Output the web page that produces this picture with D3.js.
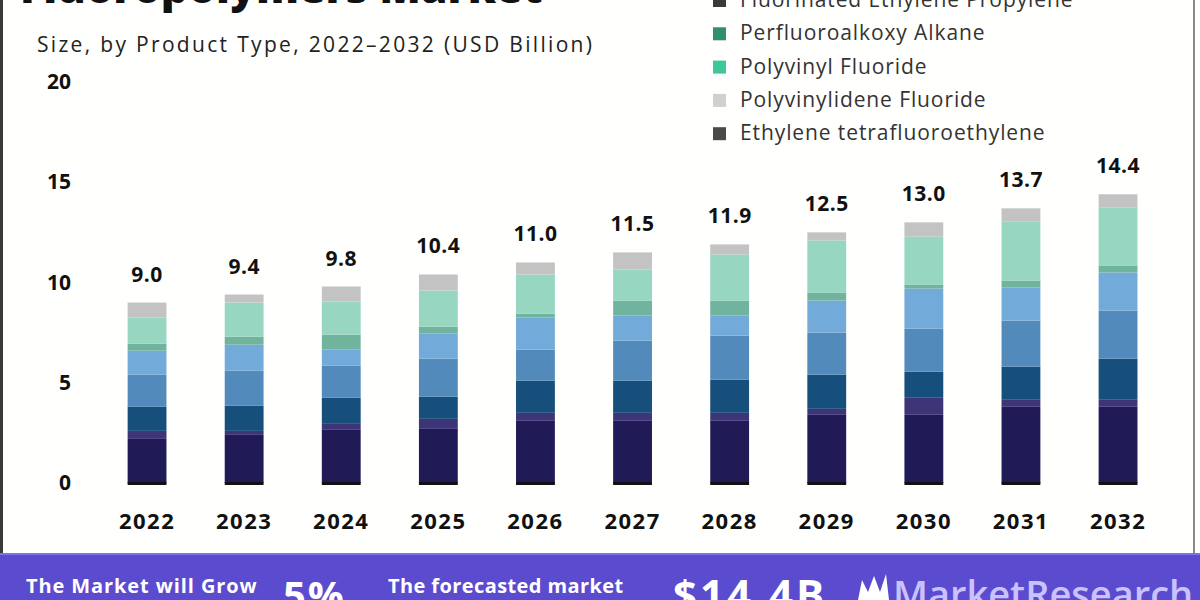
<!DOCTYPE html>
<html>
<head>
<meta charset="utf-8">
<script src="https://cdn.jsdelivr.net/npm/d3@7"></script>
<style>
  html, body { margin: 0; padding: 0; background: #ffffff; }
  svg { display: block; }
  text { font-family: "Open Sans", "Noto Sans", sans-serif; }
</style>
</head>
<body>
<div id="chart"></div>
<script>
// ---- data ----
const years = ["2022","2023","2024","2025","2026","2027","2028","2029","2030","2031","2032"];
const totals = [9.0, 9.4, 9.8, 10.4, 11.0, 11.5, 11.9, 12.5, 13.0, 13.7, 14.4];
const totalLabels = ["9.0","9.4","9.8","10.4","11.0","11.5","11.9","12.5","13.0","13.7","14.4"];

// stack layers, bottom to top
const seriesNames = [
  "Polytetrafluoroethylene",
  "Fluoroelastomers",
  "Fluorinated Ethylene Propylene",
  "Perfluoroalkoxy Alkane",
  "Polyvinyl Fluoride",
  "Polyvinylidene Fluoride",
  "Ethylene tetrafluoroethylene",
  "Others"
];
const ptfe  = [2.20, 2.40, 2.65, 2.70, 3.10, 3.10, 3.10, 3.40, 3.40, 3.80, 3.80];
const fluoroEl = [0.40, 0.20, 0.30, 0.50, 0.40, 0.40, 0.40, 0.30, 0.85, 0.35, 0.35];
const fep   = [1.20, 1.25, 1.30, 1.10, 1.60, 1.60, 1.65, 1.70, 1.30, 1.65, 2.05];
const pfa   = [1.60, 1.75, 1.60, 1.90, 1.55, 2.00, 2.20, 2.10, 2.15, 2.30, 2.40];
const pvf   = [1.20, 1.30, 0.80, 1.25, 1.60, 1.25, 1.00, 1.60, 2.00, 1.65, 1.90];
const pvdf  = [0.35, 0.40, 0.75, 0.35, 0.20, 0.75, 0.75, 0.40, 0.20, 0.35, 0.35];
const etfe  = [1.30, 1.70, 1.65, 1.80, 1.95, 1.55, 2.30, 2.60, 2.40, 2.95, 2.90];
const others= [0.75, 0.40, 0.75, 0.80, 0.60, 0.85, 0.50, 0.40, 0.70, 0.65, 0.65];
const seriesValues = [ptfe, fluoroEl, fep, pfa, pvf, pvdf, etfe, others];
const seriesColors = ["#201a57", "#3e3478", "#164e7c", "#528bbb", "#72aad9", "#70b49d", "#97d6c0", "#c3c3c3"];

// legend (top part is cropped off the picture)
const legendNames = [
  "Others", "Fluoroelastomers", "Polytetrafluoroethylene",
  "Fluorinated Ethylene Propylene", "Perfluoroalkoxy Alkane",
  "Polyvinyl Fluoride", "Polyvinylidene Fluoride", "Ethylene tetrafluoroethylene"
];
const legendColors = ["#c3c3c3", "#3e3478", "#201a57", "#3a3a3a", "#2f8f6f", "#3cc89a", "#d0d0d0", "#4a4a4a"];

const yTicks = [0, 5, 10, 15, 20];

// ---- chart ----
const W = 1200, H = 600;
const svg = d3.select("#chart").append("svg").attr("width", W).attr("height", H);

svg.append("rect").attr("x", 0).attr("y", 0).attr("width", W).attr("height", H).attr("fill", "#fffffd");

const table = years.map((yr, i) => {
  const row = { year: yr };
  seriesNames.forEach((s, k) => { row[s] = seriesValues[k][i]; });
  return row;
});
const stack = d3.stack().keys(seriesNames)(table);

const x = d3.scaleBand().domain(years).range([98.5, 1166.6]).paddingInner(0.6).paddingOuter(0.3);
const y = d3.scaleLinear().domain([0, 20]).range([483, 82]);
const color = d3.scaleOrdinal().domain(seriesNames).range(seriesColors);

// bars
svg.append("g").selectAll("g").data(stack).join("g")
  .attr("fill", d => color(d.key))
  .selectAll("rect").data(d => d).join("rect")
  .attr("x", d => x(d.data.year))
  .attr("width", x.bandwidth())
  .attr("y", d => y(d[1]))
  .attr("height", d => y(d[0]) - y(d[1]));

// baseline stub under each bar
svg.append("g").selectAll("rect").data(years).join("rect")
  .attr("x", d => x(d)).attr("width", x.bandwidth())
  .attr("y", y(0) - 1).attr("height", 3).attr("fill", "#111");

// totals
svg.append("g").selectAll("text").data(years).join("text")
  .attr("x", d => x(d) + x.bandwidth() / 2)
  .attr("y", (d, i) => y(totals[i]) - 21)
  .attr("text-anchor", "middle")
  .attr("font-size", 21).attr("font-weight", 700).attr("fill", "#111")
  .attr("letter-spacing", 0.5)
  .text((d, i) => totalLabels[i]);

// y axis
const yAxis = d3.axisLeft(y).tickValues(yTicks).tickSize(0).tickPadding(0).tickFormat(d3.format("d"));
const gy = svg.append("g").attr("transform", "translate(71,0)").call(yAxis);
gy.select(".domain").remove();
gy.selectAll("text").attr("font-size", 21).attr("font-weight", 700).attr("fill", "#111")
  .attr("font-family", "'Open Sans', sans-serif");

// x axis
const xAxis = d3.axisBottom(x).tickSize(0).tickPadding(0);
const gx = svg.append("g").attr("transform", "translate(0,513)").call(xAxis);
gx.select(".domain").remove();
gx.selectAll("text").attr("font-size", 22).attr("font-weight", 700).attr("fill", "#111")
  .attr("letter-spacing", 1.5)
  .attr("font-family", "'Open Sans', sans-serif");

// title (cropped at top)
svg.append("text").attr("x", 20).attr("y", 3)
  .attr("font-size", 43).attr("font-weight", 800).attr("fill", "#111")
  .text("Fluoropolymers Market");

svg.append("text").attr("x", 37).attr("y", 52)
  .attr("font-size", 21).attr("fill", "#222")
  .attr("textLength", 555).attr("lengthAdjust", "spacing")
  .text("Size, by Product Type, 2022\u20132032 (USD Billion)");

// legend
const lg = svg.append("g");
const lgi = lg.selectAll("g").data(legendNames).join("g")
  .attr("transform", (d, i) => `translate(713,${(i - 3) * 33.3})`);
lgi.append("rect").attr("x", 0).attr("y", -6).attr("width", 13).attr("height", 13)
  .attr("fill", (d, i) => legendColors[i]);
lgi.append("text").attr("x", 27).attr("y", 7)
  .attr("font-size", 21).attr("letter-spacing", 0.9).attr("fill", "#333").text(d => d);

// frame
svg.append("rect").attr("x", 0).attr("y", 0).attr("width", 3).attr("height", 553).attr("fill", "#3a3a3a");
svg.append("rect").attr("x", 1193).attr("y", 0).attr("width", 2).attr("height", 553).attr("fill", "#8a8a8a");

// bottom band
svg.append("rect").attr("x", 0).attr("y", 553).attr("width", W).attr("height", 47).attr("fill", "#5b4bcf");
svg.append("rect").attr("x", 0).attr("y", 553).attr("width", W).attr("height", 2).attr("fill", "#7e70e6");

const band = svg.append("g").attr("fill", "#ffffff").attr("font-weight", 700);
band.append("text").attr("x", 26).attr("y", 593).attr("font-size", 20).attr("letter-spacing", 0.9).text("The Market will Grow");
band.append("text").attr("x", 283).attr("y", 610).attr("font-size", 40).attr("letter-spacing", 2).text("5%");
band.append("text").attr("x", 388).attr("y", 593).attr("font-size", 20).attr("letter-spacing", 0.4).text("The forecasted market");
band.append("text").attr("x", 673).attr("y", 610).attr("font-size", 42).attr("letter-spacing", 3).text("$14.4B");
// logo mark
band.append("path").attr("d", "M858,600 L862,580 L868,592 L874,576 L880,592 L886,574 L889,600 Z").attr("fill", "#ffffff");
svg.append("text").attr("x", 893).attr("y", 608).attr("font-size", 38).attr("font-weight", 600)
  .attr("fill", "#c9c2ff").text("MarketResearch.biz");
</script>
</body>
</html>
